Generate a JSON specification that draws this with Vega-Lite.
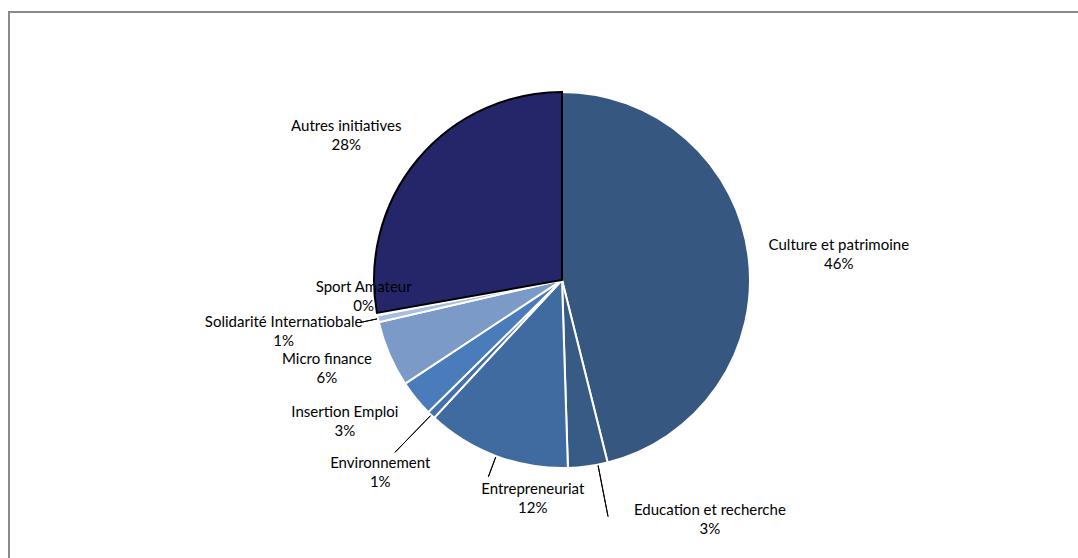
{
  "$schema": "https://vega.github.io/schema/vega-lite/v6.json",
  "width": 1078,
  "height": 558,
  "autosize": {"type": "fit", "contains": "padding"},
  "padding": {"left": 9, "top": 12, "right": -2, "bottom": -2},
  "background": "white",
  "view": {"stroke": "#8a8a8a", "strokeWidth": 2, "fill": "white"},
  "config": {
    "text": {"font": "Lato", "fontSize": 15, "lineBreak": "\n", "lineHeight": 19, "align": "center", "baseline": "middle", "dy": -9.5, "fill": "#000000"}
  },
  "data": {
    "values": [
      {"i": 1, "name": "Culture et  patrimoine", "value": 46.1},
      {"i": 2, "name": "Education et recherche", "value": 3.4},
      {"i": 3, "name": "Entrepreneuriat", "value": 12.4},
      {"i": 4, "name": "Environnement", "value": 0.7},
      {"i": 5, "name": "Insertion Emploi", "value": 3.1},
      {"i": 6, "name": "Micro finance", "value": 5.7},
      {"i": 7, "name": "Solidarité Internatiobale", "value": 0.6},
      {"i": 8, "name": "Sport Amateur", "value": 0.2},
      {"i": 9, "name": "Autres initiatives", "value": 27.8}
    ]
  },
  "transform": [
    {"window": [{"op": "sum", "field": "value", "as": "end"}], "sort": [{"field": "i"}], "frame": [null, 0]},
    {"calculate": "datum.end - datum.value", "as": "start"},
    {"calculate": "datum.end - datum.value / 2", "as": "mid"},
    {"calculate": "datum.name + '\\n' + format(datum.value, '.0f') + '%'", "as": "label"}
  ],
  "layer": [
    {
      "mark": {"type": "arc", "radius": 188, "strokeWidth": 2, "x": {"expr": "width/2+17.5"}, "y": {"expr": "height/2-6"}},
      "encoding": {
        "theta": {"field": "start", "type": "quantitative", "scale": {"domain": [0, 100]}, "stack": null},
        "theta2": {"field": "end"},
        "color": {
          "field": "name", "type": "nominal", "legend": null,
          "scale": {
            "domain": ["Culture et  patrimoine", "Education et recherche", "Entrepreneuriat", "Environnement", "Insertion Emploi", "Micro finance", "Solidarité Internatiobale", "Sport Amateur", "Autres initiatives"],
            "range": ["#36577F", "#385B86", "#406BA0", "#4471AC", "#4A7BBB", "#7B9AC8", "#A8BEDF", "#C9D6EC", "#25266A"]
          }
        },
        "stroke": {"condition": {"test": "datum.name === 'Autres initiatives'", "value": "#000000"}, "value": "#ffffff"}
      }
    },
    {
      "transform": [{"filter": "datum.name === 'Education et recherche'"}],
      "mark": {"type": "arc", "radius": 241, "radius2": 189, "thetaOffset": -0.054, "theta2Offset": -0.054, "stroke": "#000000", "strokeWidth": 1, "filled": false, "x": {"expr": "width/2+17.5"}, "y": {"expr": "height/2-6"}},
      "encoding": {"theta": {"field": "mid", "type": "quantitative", "scale": {"domain": [0, 100]}, "stack": null}, "theta2": {"field": "mid"}}
    },
    {
      "transform": [{"filter": "datum.name === 'Entrepreneuriat'"}],
      "mark": {"type": "arc", "radius": 210, "radius2": 189, "stroke": "#000000", "strokeWidth": 1, "filled": false, "x": {"expr": "width/2+17.5"}, "y": {"expr": "height/2-6"}},
      "encoding": {"theta": {"field": "mid", "type": "quantitative", "scale": {"domain": [0, 100]}, "stack": null}, "theta2": {"field": "mid"}}
    },
    {
      "transform": [{"filter": "datum.name === 'Environnement'"}],
      "mark": {"type": "arc", "radius": 240, "radius2": 189, "stroke": "#000000", "strokeWidth": 1, "filled": false, "x": {"expr": "width/2+17.5"}, "y": {"expr": "height/2-6"}},
      "encoding": {"theta": {"field": "mid", "type": "quantitative", "scale": {"domain": [0, 100]}, "stack": null}, "theta2": {"field": "mid"}}
    },
    {
      "transform": [{"filter": "datum.name === 'Solidarité Internatiobale'"}],
      "mark": {"type": "arc", "radius": 206, "radius2": 189, "stroke": "#000000", "strokeWidth": 1, "filled": false, "x": {"expr": "width/2+17.5"}, "y": {"expr": "height/2-6"}},
      "encoding": {"theta": {"field": "mid", "type": "quantitative", "scale": {"domain": [0, 100]}, "stack": null}, "theta2": {"field": "mid"}}
    },
    {
      "transform": [{"filter": "datum.name === 'Culture et  patrimoine'"}],
      "mark": {"type": "text", "radius": 278, "thetaOffset": 0.03, "x": {"expr": "width/2+17.5"}, "y": {"expr": "height/2-6"}},
      "encoding": {"theta": {"field": "mid", "type": "quantitative", "scale": {"domain": [0, 100]}, "stack": null}, "text": {"field": "label"}}
    },
    {
      "transform": [{"filter": "datum.name === 'Education et recherche'"}],
      "mark": {"type": "text", "radius": 281.5, "thetaOffset": -0.415, "x": {"expr": "width/2+17.5"}, "y": {"expr": "height/2-6"}},
      "encoding": {"theta": {"field": "mid", "type": "quantitative", "scale": {"domain": [0, 100]}, "stack": null}, "text": {"field": "label"}}
    },
    {
      "transform": [{"filter": "datum.name === 'Entrepreneuriat'"}],
      "mark": {"type": "text", "radius": 220, "thetaOffset": -0.225, "x": {"expr": "width/2+17.5"}, "y": {"expr": "height/2-6"}},
      "encoding": {"theta": {"field": "mid", "type": "quantitative", "scale": {"domain": [0, 100]}, "stack": null}, "text": {"field": "label"}}
    },
    {
      "transform": [{"filter": "datum.name === 'Environnement'"}],
      "mark": {"type": "text", "radius": 265, "thetaOffset": -0.014, "x": {"expr": "width/2+17.5"}, "y": {"expr": "height/2-6"}},
      "encoding": {"theta": {"field": "mid", "type": "quantitative", "scale": {"domain": [0, 100]}, "stack": null}, "text": {"field": "label"}}
    },
    {
      "transform": [{"filter": "datum.name === 'Insertion Emploi'"}],
      "mark": {"type": "text", "radius": 259, "thetaOffset": 0.105, "x": {"expr": "width/2+17.5"}, "y": {"expr": "height/2-6"}},
      "encoding": {"theta": {"field": "mid", "type": "quantitative", "scale": {"domain": [0, 100]}, "stack": null}, "text": {"field": "label"}}
    },
    {
      "transform": [{"filter": "datum.name === 'Micro finance'"}],
      "mark": {"type": "text", "radius": 251, "thetaOffset": 0.047, "x": {"expr": "width/2+17.5"}, "y": {"expr": "height/2-6"}},
      "encoding": {"theta": {"field": "mid", "type": "quantitative", "scale": {"domain": [0, 100]}, "stack": null}, "text": {"field": "label"}}
    },
    {
      "transform": [{"filter": "datum.name === 'Solidarité Internatiobale'"}],
      "mark": {"type": "text", "radius": 283, "thetaOffset": 0.026, "x": {"expr": "width/2+17.5"}, "y": {"expr": "height/2-6"}},
      "encoding": {"theta": {"field": "mid", "type": "quantitative", "scale": {"domain": [0, 100]}, "stack": null}, "text": {"field": "label"}}
    },
    {
      "transform": [{"filter": "datum.name === 'Sport Amateur'"}],
      "mark": {"type": "text", "radius": 199, "thetaOffset": 0.101, "x": {"expr": "width/2+17.5"}, "y": {"expr": "height/2-6"}},
      "encoding": {"theta": {"field": "mid", "type": "quantitative", "scale": {"domain": [0, 100]}, "stack": null}, "text": {"field": "label"}}
    },
    {
      "transform": [{"filter": "datum.name === 'Autres initiatives'"}],
      "mark": {"type": "text", "radius": 259.5, "thetaOffset": -0.108, "x": {"expr": "width/2+17.5"}, "y": {"expr": "height/2-6"}},
      "encoding": {"theta": {"field": "mid", "type": "quantitative", "scale": {"domain": [0, 100]}, "stack": null}, "text": {"field": "label"}}
    }
  ]
}
